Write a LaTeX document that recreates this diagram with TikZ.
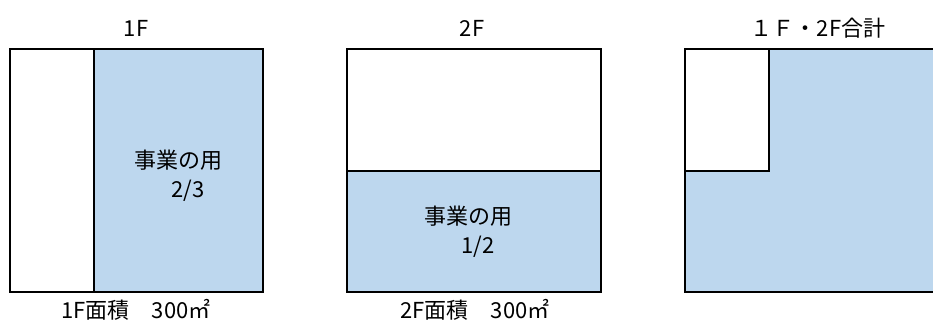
\documentclass[tikz,border=0pt]{standalone}
\usepackage{fontspec}
\setmainfont{Noto Sans CJK JP}
\definecolor{fillblue}{HTML}{BDD7EE}
\begin{document}
\begin{tikzpicture}[x=0.75pt,y=-0.75pt,
  box/.style={draw=black,line width=1.6pt},
  lbl/.style={inner sep=0pt,font=\fontsize{16.5}{20}\selectfont},
  ]
\useasboundingbox (0,0) rectangle (933,322);
% Panel 1
\fill[fillblue] (94,49) rectangle (263,292);
\draw[box] (10,49) rectangle (263,292);
\draw[box] (94,49) -- (94,292);
% Panel 2
\fill[fillblue] (347,171) rectangle (601,292);
\draw[box] (347,49) rectangle (601,292);
\draw[box] (347,171) -- (601,171);
% Panel 3
\fill[fillblue] (685,49) rectangle (933,292);
\fill[white] (685,49) rectangle (769,171);
\draw[box] (933,49) -- (685,49) -- (685,292) -- (933,292);
\draw[box] (769,49) -- (769,171) -- (685,171);
% Labels
\node[lbl] (t1) at (136,28) {1F};
\node[lbl] (t2) at (472,28) {2F};
\node[lbl] (t3) at (818,28) {１Ｆ・2F合計};
\node[lbl] (u1) at (178,160) {事業の用};
\node[lbl] (f1) at (188,191) {2/3};
\node[lbl] (u2) at (468,216) {事業の用};
\node[lbl] (f2) at (478,247) {1/2};
\node[lbl] (b1) at (136,310) {1F面積　300㎡};
\node[lbl] (b2) at (475,310) {2F面積　300㎡};
\end{tikzpicture}
\end{document}
